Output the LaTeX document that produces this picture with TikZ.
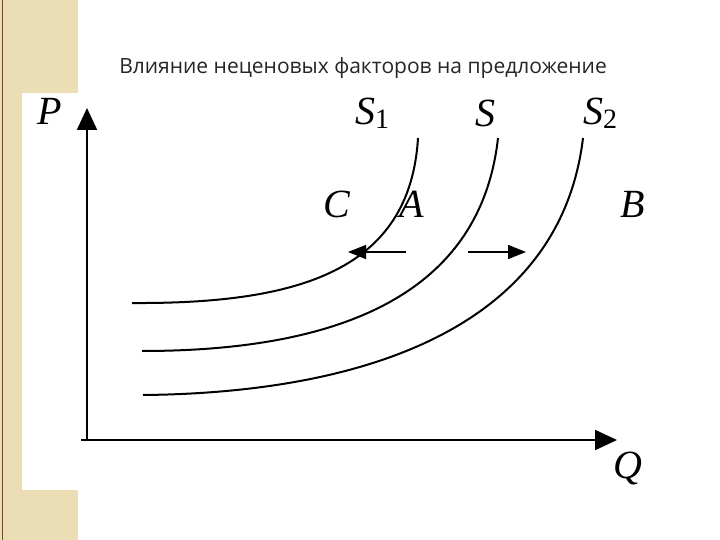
\documentclass[tikz,border=0pt]{standalone}
\usepackage{fontspec}
\setmainfont{Liberation Serif}
\newfontfamily\titlefont{Open Sans}
\usetikzlibrary{arrows.meta}
\definecolor{beige}{RGB}{236,222,180}
\begin{document}
\begin{tikzpicture}[x=1pt,y=-1pt,
  curve/.style={line width=2pt},
  axis/.style={line width=2.2pt,-{Triangle[length=22pt,width=20pt]}},
  shiftarrow/.style={line width=1.5pt,-{Triangle[length=18pt,width=14pt]}},
  lbl/.style={font=\itshape\fontsize{40}{40}\selectfont, inner sep=0pt}]
\useasboundingbox (0,0) rectangle (720,540);
\fill[white] (0,0) rectangle (720,540);
\fill[beige] (0,0) rectangle (78,540);
\draw[brown!60!black,line width=1pt] (2,0) -- (2,540);
\fill[white] (22,93) rectangle (78,490);
\node[font=\titlefont\fontsize{21}{22}\selectfont,text=black!85] (title) at (363,68) {Влияние неценовых факторов на предложение};
\coordinate (O) at (87,440);
\coordinate (Ptop) at (87,108);
\coordinate (Qend) at (617,440);
\draw[axis] (O) -- (Ptop);
\draw[axis] ([xshift=-6pt]O) -- (Qend);
\node[lbl] (P) at (50,111) {P};
\node[lbl] (Q) at (628,468) {Q};
\node[lbl] (S1) at (372,113) {S\raisebox{-4pt}{\upshape\fontsize{28}{28}\selectfont 1}};
\node[lbl] (S) at (485,113) {S};
\node[lbl] (S2) at (600,113) {S\raisebox{-4pt}{\upshape\fontsize{28}{28}\selectfont 2}};
\node[lbl] (C) at (337,204) {C};
\node[lbl] (A) at (412,204) {A};
\node[lbl] (B) at (633,204) {B};
\coordinate (a1) at (132,303); \coordinate (b1) at (418,138);
\coordinate (a2) at (142,351); \coordinate (b2) at (498,138);
\coordinate (a3) at (143,395); \coordinate (b3) at (583,138);
\draw[curve] (a1) .. controls (300,304) and (410,270) .. (b1);
\draw[curve] (a2) .. controls (330,351) and (480,300) .. (b2);
\draw[curve] (a3) .. controls (360,393) and (560,330) .. (b3);
\coordinate (l1) at (406,252); \coordinate (l2) at (348,252);
\coordinate (r1) at (468,252); \coordinate (r2) at (526,252);
\draw[shiftarrow] (l1) -- (l2);
\draw[shiftarrow] (r1) -- (r2);
\end{tikzpicture}
\end{document}
